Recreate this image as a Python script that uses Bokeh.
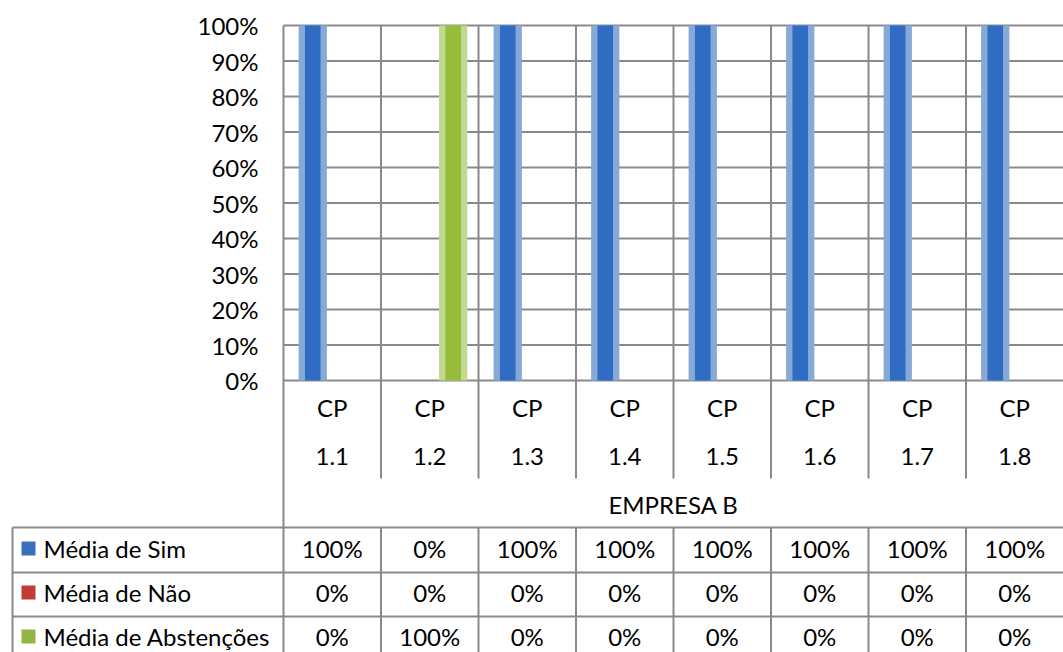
from bokeh.plotting import figure
from bokeh.models import (ColumnDataSource, Range1d, FixedTicker, NumeralTickFormatter, LinearAxis)
from bokeh.transform import dodge
from bokeh.core.properties import value
from bokeh.embed import file_html
from bokeh.resources import INLINE

# ---------------- data ----------------
categories = ["CP 1.1", "CP 1.2", "CP 1.3", "CP 1.4", "CP 1.5", "CP 1.6", "CP 1.7", "CP 1.8"]
group_label = "EMPRESA B"
series_names = ["Média de Sim", "Média de Não", "Média de Abstenções"]
sim = [1.0, 0.0, 1.0, 1.0, 1.0, 1.0, 1.0, 1.0]
nao = [0.0, 0.0, 0.0, 0.0, 0.0, 0.0, 0.0, 0.0]
abst = [0.0, 1.0, 0.0, 0.0, 0.0, 0.0, 0.0, 0.0]
y_ticks = [0.0, 0.1, 0.2, 0.3, 0.4, 0.5, 0.6, 0.7, 0.8, 0.9, 1.0]

# ---------------- styles / layout ----------------
FONT = "Lato"
FS = "24px"
GRID = "#8a8a8a"
core_cols = ["#2f6cc2", "#c0392f", "#95bd3a"]
edge_cols = ["#86a9d8", "#d98a84", "#c3d98f"]
legend_cols = ["#3a6fbd", "#c23b35", "#8fb843"]
offsets = [-0.2, 0.02, 0.24]

W, H = 1063, 652
FRAME_L = 283          # pixel x of plot area left
TOP, BASE = 25, 380    # pixel y of 100% and 0%
n = len(categories)
UNIT = (W - FRAME_L) / n
YPX = BASE - TOP


def py(pix):
    """pixel row -> y data value"""
    return (BASE - pix) / YPX


def px(pix):
    """pixel column -> x data value"""
    return (pix - FRAME_L) / UNIT


p = figure(width=W, height=H, output_backend="svg", toolbar_location=None,
           x_range=Range1d(px(0), px(W)), y_range=Range1d(py(H), py(0)),
           x_axis_location=None, y_axis_location=None, min_border=0)
p.outline_line_color = None
p.grid.visible = False
p.background_fill_color = "white"
p.border_fill_color = "white"

# y axis drawn at x = 0 (left edge of plot area)
yax = LinearAxis(fixed_location=0, ticker=FixedTicker(ticks=y_ticks),
                 formatter=NumeralTickFormatter(format="0%"))
yax.axis_line_color = None
yax.major_tick_line_color = None
yax.minor_tick_line_color = None
yax.major_tick_out = 0
yax.major_tick_in = 0
yax.major_label_standoff = 25
yax.major_label_text_font = FONT
yax.major_label_text_font_size = FS
yax.major_label_text_color = "black"
p.add_layout(yax, "left")

xs = [i + 0.5 for i in range(n)]

# horizontal grid lines in plot area
p.segment(x0=[0] * len(y_ticks), y0=y_ticks, x1=[n] * len(y_ticks), y1=y_ticks,
          line_color=GRID, line_width=2)

# vertical category boundary lines (plot area + category label rows)
p.segment(x0=list(range(1, n)), y0=[1.0] * (n - 1), x1=list(range(1, n)), y1=[py(478)] * (n - 1),
          line_color=GRID, line_width=2)
p.segment(x0=[0], y0=[1.0], x1=[0], y1=[py(H)], line_color=GRID, line_width=2)

# bars
src = ColumnDataSource(dict(x=xs, sim=sim, nao=nao, abst=abst))
for key, off, ec, cc in zip(["sim", "nao", "abst"], offsets, edge_cols, core_cols):
    p.vbar(x=dodge("x", off, range=p.x_range), top=key, bottom=0, width=0.29,
           source=src, fill_color=ec, line_color=None)
    p.vbar(x=dodge("x", off, range=p.x_range), top=key, bottom=0, width=0.16,
           source=src, fill_color=cc, line_color=None)

# ---------------- data table ----------------
row_lines = [py(527), py(572), py(616)]
row_centers = [py(548), py(592), py(636)]
left_x = px(12)

p.segment(x0=list(range(1, n)), y0=[py(527)] * (n - 1), x1=list(range(1, n)), y1=[py(H)] * (n - 1),
          line_color=GRID, line_width=2)
p.segment(x0=[left_x], y0=[py(527)], x1=[left_x], y1=[py(H)], line_color=GRID, line_width=2)
p.segment(x0=[left_x] * 3, y0=row_lines, x1=[n] * 3, y1=row_lines, line_color=GRID, line_width=2)

cp = [c.split(" ")[0] for c in categories]
num = [c.split(" ")[1] for c in categories]
txt = dict(text_font=value(FONT), text_font_size=FS, text_baseline="middle", text_color="black")
p.text(x=xs, y=[py(407)] * n, text=cp, text_align="center", **txt)
p.text(x=xs, y=[py(456)] * n, text=num, text_align="center", **txt)
p.text(x=[n / 2], y=[py(504)], text=[group_label], text_align="center", **txt)

for vals, yc in zip([sim, nao, abst], row_centers):
    labels = ["%d%%" % round(v * 100) for v in vals]
    p.text(x=xs, y=[yc] * n, text=labels, text_align="center", **txt)

p.rect(x=[px(28)] * 3, y=row_centers, width=14, height=14, width_units="screen",
       height_units="screen", fill_color=legend_cols, line_color=None)
p.text(x=[px(43)] * 3, y=row_centers, text=series_names, text_align="left", **txt)

open("out.html", "w").write(file_html(p, INLINE))
